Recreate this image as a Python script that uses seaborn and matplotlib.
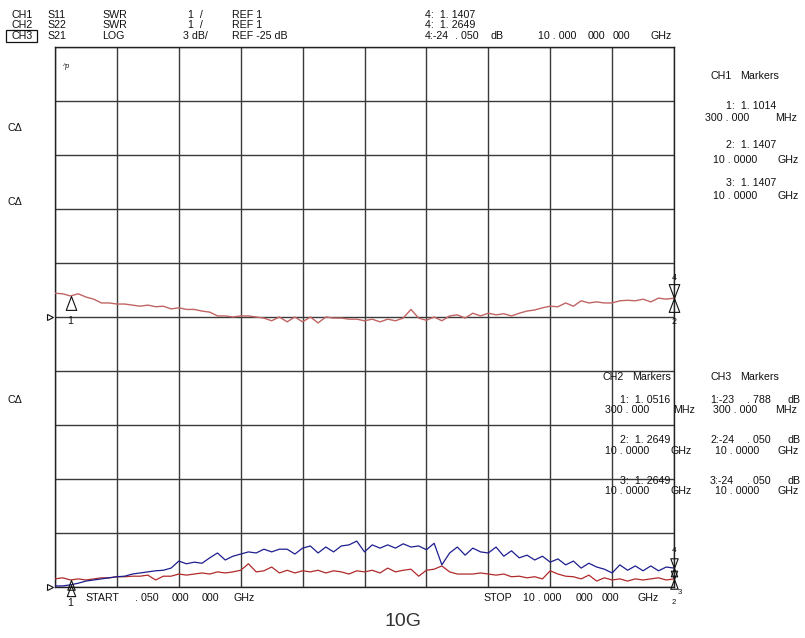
"""
Network analyzer screen: S11 / S22 SWR and S21 LOG, 0.05 - 10 GHz sweep
"""

import numpy as np
import pandas as pd
import matplotlib
matplotlib.use("Agg")
import matplotlib.pyplot as plt
from matplotlib.path import Path
from matplotlib.patches import Rectangle
import seaborn as sns

W, H = 805, 638

# sweep
START_GHZ, STOP_GHZ, N_POINTS = 0.05, 10.0, 81

# traces, in graticule divisions above each channel's reference line
ch1_s11 = [0.44, 0.43, 0.39, 0.43, 0.37, 0.33, 0.26, 0.26, 0.24, 0.24,
           0.22, 0.20, 0.22, 0.19, 0.20, 0.15, 0.17, 0.14, 0.14, 0.11,
           0.09, 0.02, 0.02, 0.00, 0.02, 0.02, 0.00, -0.02, -0.07, 0.00,
           -0.09, 0.00, -0.09, 0.00, -0.11, 0.00, -0.02, -0.02, -0.04, -0.04,
           -0.07, -0.04, -0.09, -0.04, -0.07, -0.02, 0.14, -0.02, -0.06, 0.00,
           -0.07, 0.02, 0.04, -0.02, 0.07, 0.02, 0.07, 0.04, 0.06, 0.02,
           0.07, 0.11, 0.13, 0.17, 0.20, 0.19, 0.26, 0.20, 0.30, 0.26,
           0.28, 0.26, 0.26, 0.30, 0.31, 0.30, 0.33, 0.28, 0.35, 0.33,
           0.35]
ch2_s22 = [0.02, 0.02, 0.04, 0.07, 0.11, 0.13, 0.15, 0.17, 0.19, 0.20,
           0.24, 0.26, 0.28, 0.30, 0.31, 0.35, 0.48, 0.43, 0.46, 0.44,
           0.54, 0.63, 0.50, 0.57, 0.61, 0.65, 0.63, 0.70, 0.65, 0.70,
           0.70, 0.61, 0.72, 0.76, 0.63, 0.74, 0.65, 0.76, 0.78, 0.85,
           0.65, 0.78, 0.72, 0.78, 0.72, 0.80, 0.74, 0.76, 0.69, 0.81,
           0.41, 0.63, 0.74, 0.59, 0.72, 0.65, 0.63, 0.74, 0.57, 0.67,
           0.54, 0.59, 0.50, 0.57, 0.46, 0.52, 0.41, 0.48, 0.35, 0.44,
           0.37, 0.33, 0.26, 0.41, 0.31, 0.39, 0.30, 0.39, 0.30, 0.37,
           0.35]
ch3_s21 = [0.15, 0.17, 0.13, 0.15, 0.13, 0.15, 0.17, 0.17, 0.19, 0.19,
           0.20, 0.20, 0.22, 0.13, 0.20, 0.20, 0.24, 0.22, 0.24, 0.26,
           0.24, 0.28, 0.26, 0.28, 0.31, 0.43, 0.28, 0.30, 0.37, 0.26,
           0.31, 0.26, 0.30, 0.28, 0.31, 0.26, 0.30, 0.28, 0.24, 0.30,
           0.28, 0.31, 0.26, 0.35, 0.28, 0.31, 0.33, 0.20, 0.31, 0.33,
           0.39, 0.28, 0.24, 0.24, 0.24, 0.26, 0.24, 0.22, 0.24, 0.19,
           0.20, 0.17, 0.19, 0.15, 0.30, 0.24, 0.20, 0.19, 0.15, 0.22,
           0.11, 0.17, 0.13, 0.15, 0.11, 0.15, 0.13, 0.15, 0.17, 0.13,
           0.15]

CH1_REF_DIV = 5
CH23_REF_DIV = 0
MARKER1_GHZ = 0.3

C_CH1 = "#c26464"
C_CH2 = "#1e1e8e"
C_CH3 = "#b02a2a"

FONT = ["Liberation Sans Narrow", "Liberation Sans", "DejaVu Sans"]

sns.set_theme(style="white")
plt.rcParams["font.family"] = FONT
plt.rcParams["text.color"] = "#111111"

fig = plt.figure(figsize=(W / 100, H / 100), dpi=100)
fig.patch.set_facecolor("white")
ax = fig.add_axes([55 / W, 1 - 587 / H, 619 / W, 540 / H])

freq = np.linspace(START_GHZ, STOP_GHZ, N_POINTS)
df = pd.DataFrame({
    "freq": freq,
    "ch1": CH1_REF_DIV + np.array(ch1_s11),
    "ch2": CH23_REF_DIV + np.array(ch2_s22),
    "ch3": CH23_REF_DIV + np.array(ch3_s21),
})

sns.lineplot(data=df, x="freq", y="ch1", ax=ax, color=C_CH1, lw=1.0, zorder=3)
sns.lineplot(data=df, x="freq", y="ch3", ax=ax, color=C_CH3, lw=0.9, zorder=3)
sns.lineplot(data=df, x="freq", y="ch2", ax=ax, color=C_CH2, lw=0.9, zorder=4)

ax.set_xlim(START_GHZ, STOP_GHZ)
ax.set_ylim(0, 10)
ax.set_xticks(np.linspace(START_GHZ, STOP_GHZ, 11))
ax.set_yticks(range(11))
ax.tick_params(length=0, labelbottom=False, labelleft=False)
ax.grid(True, color="#3a3a3a", lw=1.0)
ax.set_xlabel("")
ax.set_ylabel("")
for sp in ax.spines.values():
    sp.set_color("#222222")
    sp.set_linewidth(1.0)

# marker triangles (tip sits on the trace)
tri_up = Path([(0, 0), (-0.38, -1), (0.38, -1), (0, 0)], closed=True)
tri_dn = Path([(0, 0), (-0.38, 1), (0.38, 1), (0, 0)], closed=True)


def mark(x, y, path, size=20):
    ax.plot([x], [y], marker=path, ms=size, mfc="none", mec="#111111",
            mew=0.8, clip_on=False, zorder=6)


m1_ch1 = np.interp(MARKER1_GHZ, freq, df["ch1"])
mark(MARKER1_GHZ, m1_ch1, tri_up)
mark(STOP_GHZ, df["ch1"].iloc[-1], tri_dn)
mark(STOP_GHZ, df["ch1"].iloc[-1], tri_up)

mark(MARKER1_GHZ, np.interp(MARKER1_GHZ, freq, df["ch2"]), tri_up, 16)
mark(MARKER1_GHZ, np.interp(MARKER1_GHZ, freq, df["ch3"]), tri_up, 14)
mark(STOP_GHZ, df["ch2"].iloc[-1], tri_dn, 14)
mark(STOP_GHZ, df["ch3"].iloc[-1], tri_dn, 12)
mark(STOP_GHZ, df["ch2"].iloc[-1], tri_up, 12)
mark(STOP_GHZ, df["ch3"].iloc[-1], tri_up, 14)

# reference position indicators on the left edge
ytr = ax.get_yaxis_transform()
for ref in (CH1_REF_DIV, CH23_REF_DIV):
    ax.plot([-0.0075], [ref], marker=">", ms=5, mfc="white", mec="#111111",
            mew=0.8, transform=ytr, clip_on=False, zorder=6)


def put(x, y, s, size=7.7, ha="left", **kw):
    fig.text(x / W, 1 - y / H, s, ha=ha, va="center", fontsize=size, **kw)


# header rows
header = [
    (15, [(11, "CH1"), (47, "S11"), (102, "SWR"), (188, "1  /"),
          (232, "REF 1"), (425, "4:  1. 1407")]),
    (25.5, [(11, "CH2"), (47, "S22"), (102, "SWR"), (188, "1  /"),
            (232, "REF 1"), (425, "4:  1. 2649")]),
    (36, [(11, "CH3"), (47, "S21"), (102, "LOG"), (183, "3 dB/"),
          (232, "REF -25 dB"), (425, "4:-24"), (455, ". 050"), (490, "dB"),
          (538, "10 . 000"), (588, "000"), (613, "000"), (650, "GHz")]),
]
for y, pieces in header:
    for x, s in pieces:
        put(x, y, s)
fig.patches.append(Rectangle((6 / W, 1 - 42 / H), 31 / W, 12 / H, fill=False,
                             ec="#111111", lw=0.9, transform=fig.transFigure))

# marker read-outs
ch1_block = [
    (76, [(710, "CH1"), (740, "Markers")]),
    (106, [(726, "1:  1. 1014")]),
    (118, [(705, "300 . 000"), (775, "MHz")]),
    (145, [(726, "2:  1. 1407")]),
    (160, [(713, "10 . 0000"), (777, "GHz")]),
    (183, [(726, "3:  1. 1407")]),
    (196, [(713, "10 . 0000"), (777, "GHz")]),
]
ch2_block = [
    (377, [(602, "CH2"), (632, "Markers")]),
    (400, [(620, "1:  1. 0516")]),
    (410, [(605, "300 . 000"), (673, "MHz")]),
    (440, [(620, "2:  1. 2649")]),
    (451, [(605, "10 . 0000"), (670, "GHz")]),
    (481, [(620, "3:  1. 2649")]),
    (491, [(605, "10 . 0000"), (670, "GHz")]),
]
ch3_block = [
    (377, [(710, "CH3"), (740, "Markers")]),
    (400, [(710, "1:-23"), (747, ". 788"), (787, "dB")]),
    (410, [(713, "300 . 000"), (775, "MHz")]),
    (440, [(710, "2:-24"), (747, ". 050"), (787, "dB")]),
    (451, [(715, "10 . 0000"), (777, "GHz")]),
    (481, [(710, "3:-24"), (747, ". 050"), (787, "dB")]),
    (491, [(715, "10 . 0000"), (777, "GHz")]),
]
for block in (ch1_block, ch2_block, ch3_block):
    for y, pieces in block:
        for x, s in pieces:
            put(x, y, s)

# left channel labels
for y in (128, 202, 400):
    put(7, y, "C\u0394")
put(63, 67, "^p", size=5, style="italic")

# marker numbers
put(70, 321, "1", ha="center")
put(674, 278, "4", ha="center", size=6.5)
put(674, 322, "2", ha="center", size=6.5)
put(70, 603, "1", ha="center")
put(674, 551, "4", ha="center", size=6)
put(680, 592, "3", ha="center", size=5.5)
put(674, 602, "2", ha="center", size=5.5)

# start / stop
for x, s in [(85, "START"), (135, ". 050"), (172, "000"), (202, "000"), (233, "GHz")]:
    put(x, 598, s)
for x, s in [(483, "STOP"), (523, "10 . 000"), (576, "000"), (602, "000"), (637, "GHz")]:
    put(x, 598, s)

fig.text(403 / W, 1 - 622 / H, "10G", ha="center", va="center", fontsize=14,
         color="#333333", family=["Liberation Sans", "DejaVu Sans"])

fig.savefig("out.png", dpi=100)
